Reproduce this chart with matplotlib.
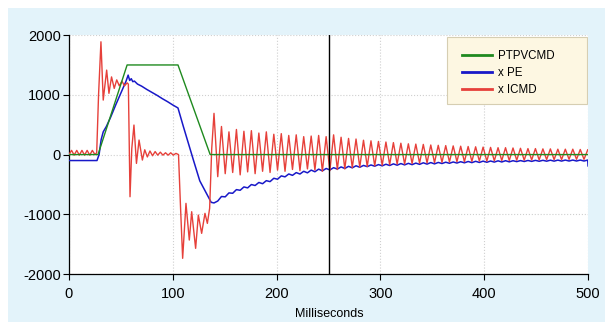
import matplotlib
matplotlib.use("Agg")
import matplotlib.pyplot as plt
from matplotlib.patches import Rectangle

# ---------------- data ----------------
green_t = [0, 28, 56, 105, 136, 500]
green_v = [0, 0, 1500, 1500, 0, 0]

blue_pre_t = [0, 27, 29, 31, 33, 36, 40, 45, 50, 55, 57, 58.5, 60, 61.5, 63, 66, 70,
              75, 80, 85, 90, 95, 100, 105, 110, 115, 120, 126, 130, 134, 137]
blue_pre_v = [-100, -100, 0, 250, 380, 470, 620, 830, 1030, 1230, 1330, 1240, 1270,
              1220, 1230, 1180, 1145, 1090, 1040, 990, 935, 885, 830, 780, 480, 190,
              -100, -440, -570, -700, -800]

red_pre_t = [0, 2.5, 5, 7.5, 10, 12.5, 15, 17.5, 20, 22.5, 25, 26.7, 28.5, 30.8, 33,
             36.3, 38.5, 41, 43.6, 46, 48.5, 51, 53.5, 56, 57.2, 58.8, 60.5, 62.6, 65,
             67.5, 70.7, 73, 75.5, 78, 80.5, 83, 85.5, 88, 90.5, 93, 95.5, 98, 100.5,
             103, 105.5, 107.5, 109.5, 112.7, 115.9, 118.2, 122, 124.6, 127.8, 131,
             133.3, 135.5, 137.5]
red_pre_v = [0, 70, -10, 70, -10, 70, -10, 70, -10, 70, 0, 30, 1000, 1888, 912, 1414,
             1025, 1300, 1108, 1250, 1150, 1230, 1150, 1200, 1180, -706, 100, 494,
             -148, 243, -92, 80, -40, 60, -20, 50, -10, 40, -10, 30, -10, 30, -10, 20,
             0, -900, -1737, -817, -1431, -957, -1570, -1013, -1319, -984, -1152, -900,
             100]

post_t = [139.7, 143.3, 146.9, 150.5, 154.1, 157.7, 161.3, 164.9, 168.5, 172.1, 175.7,
          179.3, 182.9, 186.5, 190.1, 193.7, 197.3, 200.9, 204.5, 208.1, 211.7, 215.3,
          218.9, 222.5, 226.1, 229.7, 233.3, 236.9, 240.5, 244.1, 247.7, 251.3, 254.9,
          258.5, 262.1, 265.7, 269.3, 272.9, 276.5, 280.1, 283.7, 287.3, 290.9, 294.5,
          298.1, 301.7, 305.3, 308.9, 312.5, 316.1, 319.7, 323.3, 326.9, 330.5, 334.1,
          337.7, 341.3, 344.9, 348.5, 352.1, 355.7, 359.3, 362.9, 366.5, 370.1, 373.7,
          377.3, 380.9, 384.5, 388.1, 391.7, 395.3, 398.9, 402.5, 406.1, 409.7, 413.3,
          416.9, 420.5, 424.1, 427.7, 431.3, 434.9, 438.5, 442.1, 445.7, 449.3, 452.9,
          456.5, 460.1, 463.7, 467.3, 470.9, 474.5, 478.1, 481.7, 485.3, 488.9, 492.5,
          496.1, 499.7]
red_post_v = [690, -370, 470, -320, 380, -300, 420, -340, 390, -290, 400, -320, 360,
              -280, 380, -300, 340, -260, 350, -280, 320, -250, 330, -270, 300, -240,
              310, -260, 320, -280, 300, -270, 330, -250, 290, -240, 270, -220, 260,
              -210, 240, -200, 230, -190, 220, -180, 210, -170, 200, -160, 190, -160,
              180, -150, 175, -145, 170, -140, 160, -135, 155, -130, 150, -125, 145,
              -120, 140, -120, 135, -115, 130, -110, 125, -110, 120, -105, 115, -100,
              115, -100, 110, -95, 105, -95, 100, -90, 100, -90, 95, -85, 95, -85, 90,
              -85, 90, -80, 90, -80, 85, -80, 80]
blue_post_v = [-810, -778, -702, -708, -642, -648, -587, -598, -542, -558, -502, -518,
               -467, -488, -437, -453, -397, -413, -357, -373, -325, -348, -302, -326,
               -280, -306, -260, -288, -244, -273, -233, -257, -220, -243, -207, -233,
               -197, -222, -188, -213, -182, -202, -174, -195, -168, -189, -162, -183,
               -156, -178, -151, -173, -147, -169, -143, -164, -138, -160, -134, -156,
               -132, -150, -128, -146, -124, -142, -120, -138, -116, -135, -113, -132,
               -110, -129, -108, -126, -105, -124, -103, -122, -103, -118, -101, -116,
               -99, -114, -97, -112, -96, -111, -94, -110, -93, -109, -92, -108, -92,
               -108, -92, -108, -92]
blue_end_t = [500]
blue_end_v = [-190]

cursor_x = 250
x_ticks = [0, 100, 200, 300, 400, 500]
x_ticklabels = ["0", "100", "200", "300", "400", "500"]
y_ticks = [-2000, -1000, 0, 1000, 2000]
y_ticklabels = ["-2000", "-1000", "0", "1000", "2000"]
labels = ["PTPVCMD", "x PE", "x ICMD"]
xlabel = "Milliseconds"

# ---------------- plot ----------------
plt.rcParams['font.family'] = ['Liberation Sans', 'DejaVu Sans']
fig = plt.figure(figsize=(6.05, 3.22), dpi=100)
fig.patch.set_facecolor('white')
# light-blue panel behind the chart
panel = Rectangle((8 / 605, 0), 1, 1 - 8 / 322, transform=fig.transFigure,
                  facecolor='#e3f3fa', edgecolor='none')
panel.set_zorder(-10)
fig.add_artist(panel)

ax = fig.add_axes([0.114, 0.149, 0.858, 0.742])
ax.set_zorder(1)
ax.set_facecolor('white')

red_t = red_pre_t + post_t
red_v = red_pre_v + red_post_v
blue_t = blue_pre_t + post_t + blue_end_t
blue_v = blue_pre_v + blue_post_v + blue_end_v

l_g, = ax.plot(green_t, green_v, color='#1f8a1f', lw=1.0, label=labels[0], zorder=6)
l_b, = ax.plot(blue_t, blue_v, color='#1818c8', lw=1.1, label=labels[1], zorder=4)
l_r, = ax.plot(red_t, red_v, color='#e6403a', lw=1.0, label=labels[2], zorder=5)
ax.axvline(cursor_x, color='black', lw=1.0, zorder=7)

ax.set_xlim(0, 500)
ax.set_ylim(-2000, 2000)
ax.set_xticks(x_ticks)
ax.set_xticklabels(x_ticklabels)
ax.set_yticks(y_ticks)
ax.set_yticklabels(y_ticklabels)
ax.tick_params(direction='out', length=4, width=0.8, labelsize=10.5, colors='black')
ax.tick_params(axis='x', pad=5)
ax.tick_params(axis='y', pad=2)
ax.grid(True, color='#cfcfcf', linestyle=':', linewidth=0.8)
ax.set_axisbelow(True)
for s in ['top', 'right']:
    ax.spines[s].set_visible(False)
for s in ['left', 'bottom']:
    ax.spines[s].set_color('black')
    ax.spines[s].set_linewidth(0.9)

# legend box (wider than its content, as in the original)
ax.add_patch(Rectangle((0.728, 0.711), 0.27, 0.281, transform=ax.transAxes,
                       facecolor='#fdf7e2', edgecolor='#d6ceb2', lw=0.8, zorder=8))
leg = ax.legend(handles=[l_g, l_b, l_r], loc='upper left',
                bbox_to_anchor=(0.735, 0.985), fontsize=8.3,
                frameon=False, handlelength=2.6, handletextpad=0.5,
                borderpad=0.5, labelspacing=0.42)
leg.set_zorder(9)
for line in leg.get_lines():
    line.set_linewidth(2.0)

fig.text(0.544, 1 - 308 / 322, xlabel, ha='center', va='top', fontsize=9)

fig.savefig('out.png', dpi=100, facecolor=fig.get_facecolor())
